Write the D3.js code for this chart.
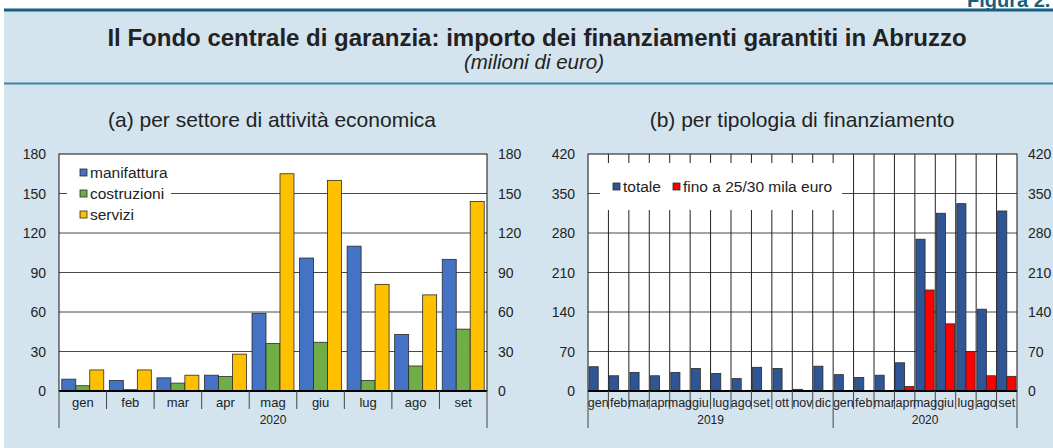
<!DOCTYPE html>
<html>
<head>
<meta charset="utf-8">
<script src="https://cdn.jsdelivr.net/npm/d3@7"></script>
<style>
  body { margin: 0; background: #fff; }
  svg { display: block; font-family: "Liberation Sans", Arial, sans-serif; }
</style>
</head>
<body>
<svg id="chart"></svg>
<script>
// Dati pannello (a): per settore, 2020
const mesiA = ["gen", "feb", "mar", "apr", "mag", "giu", "lug", "ago", "set"];
const manifattura = [9, 8, 10, 12, 59, 101, 110, 43, 100];
const costruzioni = [4, 1, 6, 11, 36, 37, 8, 19, 47];
const servizi = [16, 16, 12, 28, 165, 160, 81, 73, 144];
const tickA = [0, 30, 60, 90, 120, 150, 180];

// Dati pannello (b): per tipologia, 2019-2020
const mesiB = ["gen", "feb", "mar", "apr", "mag", "giu", "lug", "ago", "set", "ott", "nov", "dic",
  "gen", "feb", "mar", "apr", "mag", "giu", "lug", "ago", "set"];
const anniB = ["2019", "2020"];
const mesiPerAnno = [12, 9];
const totale = [43, 27, 33, 27, 33, 40, 31, 22, 42, 40, 3, 44, 29, 24, 28, 50, 269, 315, 332, 145, 319];
const fino30 = [null, null, null, null, null, null, null, null, null, null, null, null,
  null, null, null, 8, 179, 119, 70, 27, 26];
const tickB = [0, 70, 140, 210, 280, 350, 420];

const width = 1053, height = 448;
const bg = "#d3e4ee";

const svg = d3.select("#chart").attr("width", width).attr("height", height);

// sfondo e cornice
svg.append("rect").attr("x", 4).attr("y", 10).attr("width", width - 4).attr("height", height - 10).attr("fill", bg);
svg.append("text").attr("x", 967).attr("y", 7).text("Figura 2.")
  .style("font-size", "20px").style("font-weight", "bold").attr("fill", "#175f80");
svg.append("line").attr("x1", 4).attr("x2", width).attr("y1", 10).attr("y2", 10)
  .attr("stroke", "#175f80").attr("stroke-width", 3);
svg.append("line").attr("x1", 4).attr("x2", width).attr("y1", 83.5).attr("y2", 83.5)
  .attr("stroke", "#3f82a8").attr("stroke-width", 2);

// titoli
svg.append("text").attr("x", 537).attr("y", 46).attr("text-anchor", "middle")
  .style("font-size", "24px").style("font-weight", "bold").attr("fill", "#222")
  .text("Il Fondo centrale di garanzia: importo dei finanziamenti garantiti in Abruzzo");
svg.append("text").attr("x", 534).attr("y", 69).attr("text-anchor", "middle")
  .style("font-size", "20.5px").style("font-style", "italic").attr("fill", "#222")
  .text("(milioni di euro)");
svg.append("text").attr("x", 272).attr("y", 127).attr("text-anchor", "middle")
  .style("font-size", "21px").attr("fill", "#222").text("(a) per settore di attività economica");
svg.append("text").attr("x", 802).attr("y", 127).attr("text-anchor", "middle")
  .style("font-size", "21px").attr("fill", "#222").text("(b) per tipologia di finanziamento");

const plotTop = 154, plotBottom = 391;

function drawPanel(p) {
  const g = svg.append("g");
  const x = d3.scaleBand().domain(d3.range(p.labels.length)).range([p.x0, p.x1]);
  const y = d3.scaleLinear().domain([0, p.ticks[p.ticks.length - 1]]).range([plotBottom, plotTop]);
  const inner = d3.scaleBand().domain(d3.range(p.series.length)).range([0, x.bandwidth()])
    .paddingOuter(p.pad);

  g.append("rect").attr("x", p.x0).attr("y", plotTop).attr("width", p.x1 - p.x0)
    .attr("height", plotBottom - plotTop).attr("fill", "#fff");

  // griglia orizzontale
  g.selectAll(".grid").data(p.ticks.slice(1, -1)).enter().append("line")
    .attr("x1", p.x0).attr("x2", p.x1).attr("y1", d => y(d)).attr("y2", d => y(d))
    .attr("stroke", "#333").attr("stroke-width", 0.9);

  // griglia verticale (solo pannello b)
  if (p.vgrid) {
    g.selectAll(".vgrid").data(d3.range(1, p.labels.length)).enter().append("line")
      .attr("x1", d => x(d)).attr("x2", d => x(d)).attr("y1", plotTop).attr("y2", plotBottom)
      .attr("stroke", "#222").attr("stroke-width", 1);
  }

  // legenda (sfondo bianco sopra la griglia)
  g.append("rect").attr("x", p.legend.x).attr("y", p.legend.y).attr("width", p.legend.w)
    .attr("height", p.legend.h).attr("fill", "#fff");

  // barre (i valori nulli non vengono disegnati)
  p.series.forEach((s, si) => {
    const pts = s.values.map((v, i) => ({ v, i })).filter(d => d.v !== null);
    g.selectAll(".bar" + si).data(pts).enter().append("rect")
      .attr("x", d => x(d.i) + inner(si))
      .attr("y", d => y(d.v))
      .attr("width", inner.bandwidth())
      .attr("height", d => y(0) - y(d.v))
      .attr("fill", s.color).attr("stroke", "#2a2a2a").attr("stroke-width", 0.8);
  });

  // cornice
  g.append("rect").attr("x", p.x0).attr("y", plotTop).attr("width", p.x1 - p.x0)
    .attr("height", plotBottom - plotTop).attr("fill", "none").attr("stroke", "#111").attr("stroke-width", 1);
  g.append("line").attr("x1", p.x0).attr("x2", p.x1).attr("y1", plotBottom).attr("y2", plotBottom)
    .attr("stroke", "#000").attr("stroke-width", 2);

  // etichette asse y (sinistra e destra)
  g.selectAll(".yl").data(p.ticks).enter().append("text")
    .attr("x", p.x0 - 13).attr("y", d => y(d) + 5).attr("text-anchor", "end")
    .style("font-size", "14px").attr("fill", "#222").text(d => d);
  g.selectAll(".yr").data(p.ticks).enter().append("text")
    .attr("x", p.x1 + 11).attr("y", d => y(d) + 5).attr("text-anchor", "start")
    .style("font-size", "14px").attr("fill", "#222").text(d => d);

  // asse x: separatori e mesi
  g.selectAll(".sep").data(d3.range(1, p.labels.length)).enter().append("line")
    .attr("x1", d => x(d)).attr("x2", d => x(d)).attr("y1", plotBottom)
    .attr("y2", d => p.yearBreaks.includes(d) ? 428 : 409)
    .attr("stroke", "#444").attr("stroke-width", 1);
  [p.x0, p.x1].forEach(v => g.append("line").attr("x1", v).attr("x2", v)
    .attr("y1", plotBottom).attr("y2", 428).attr("stroke", "#444").attr("stroke-width", 1));
  g.selectAll(".xl").data(p.labels).enter().append("text")
    .attr("x", (d, i) => x(i) + x.bandwidth() / 2).attr("y", 407).attr("text-anchor", "middle")
    .style("font-size", p.labelSize).attr("fill", "#222").text(d => d);

  // anni
  let start = 0;
  p.years.forEach((yr, k) => {
    const n = p.yearCounts[k];
    g.append("text").attr("x", x(start) + (n * x.step()) / 2).attr("y", 424)
      .attr("text-anchor", "middle").style("font-size", "12px").attr("fill", "#222").text(yr);
    start += n;
  });

  // voci di legenda
  p.series.forEach((s, si) => {
    const lx = p.legend.itemX[si], ly = p.legend.itemY[si];
    g.append("rect").attr("x", lx).attr("y", ly - 4).attr("width", 7).attr("height", 7)
      .attr("fill", s.color).attr("stroke", "#2a2a2a").attr("stroke-width", 0.8);
    g.append("text").attr("x", lx + 10).attr("y", ly + 5)
      .style("font-size", "15.5px").attr("fill", "#222").text(s.name);
  });
}

drawPanel({
  x0: 59, x1: 487, labels: mesiA, ticks: tickA, pad: 0.2, vgrid: false,
  labelSize: "13px", years: ["2020"], yearCounts: [mesiA.length], yearBreaks: [],
  series: [
    { name: "manifattura", values: manifattura, color: "#4472c4" },
    { name: "costruzioni", values: costruzioni, color: "#70ad47" },
    { name: "servizi", values: servizi, color: "#ffc000" }
  ],
  legend: { x: 67, y: 163, w: 104, h: 62, itemX: [80, 80, 80], itemY: [173, 194, 215] }
});

drawPanel({
  x0: 588, x1: 1017, labels: mesiB, ticks: tickB, pad: 0.12, vgrid: true,
  labelSize: "12.5px", years: anniB, yearCounts: mesiPerAnno, yearBreaks: [mesiPerAnno[0]],
  series: [
    { name: "totale", values: totale, color: "#2f5597" },
    { name: "fino a 25/30 mila euro", values: fino30, color: "#ff0000" }
  ],
  legend: { x: 600, y: 163, w: 242, h: 47, itemX: [613, 673], itemY: [187, 187] }
});
</script>
</body>
</html>
